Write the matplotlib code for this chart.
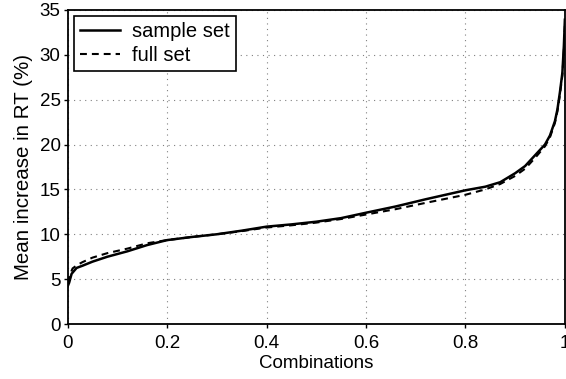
import matplotlib
matplotlib.use('Agg')
import matplotlib.pyplot as plt

plt.rcParams['font.family'] = ['Liberation Sans', 'DejaVu Sans']

# -- curve data --
x_sample = [0.0, 0.003, 0.008, 0.018, 0.03, 0.05, 0.08, 0.12, 0.16, 0.2,
            0.25, 0.3, 0.35, 0.4, 0.45, 0.5, 0.55, 0.6, 0.66, 0.72,
            0.8, 0.84, 0.87, 0.9, 0.92, 0.94, 0.96, 0.97, 0.98, 0.985,
            0.99, 0.995, 0.998, 1.0]
y_sample = [4.2, 4.6, 5.6, 6.25, 6.5, 6.95, 7.5, 8.1, 8.8, 9.35,
            9.7, 10.0, 10.4, 10.85, 11.1, 11.4, 11.8, 12.4, 13.1, 13.9,
            14.9, 15.3, 15.8, 16.8, 17.6, 18.8, 20.0, 21.0, 22.6, 23.9,
            25.8, 28.0, 31.0, 33.9]

x_full = [0.0, 0.004, 0.01, 0.02, 0.03, 0.05, 0.08, 0.12, 0.16, 0.2,
          0.25, 0.3, 0.35, 0.4, 0.45, 0.5, 0.55, 0.6, 0.66, 0.72,
          0.8, 0.84, 0.87, 0.9, 0.92, 0.94, 0.96, 0.97, 0.98, 0.985,
          0.99, 0.995, 0.998, 1.0]
y_full = [4.6, 5.4, 6.2, 6.6, 6.9, 7.4, 7.9, 8.4, 9.0, 9.35,
          9.7, 10.0, 10.35, 10.75, 11.0, 11.3, 11.7, 12.2, 12.8, 13.5,
          14.4, 15.0, 15.6, 16.5, 17.3, 18.5, 19.8, 20.8, 22.4, 23.7,
          25.5, 27.7, 30.5, 33.2]

xticks = [0, 0.2, 0.4, 0.6, 0.8, 1]
xtick_labels = ['0', '0.2', '0.4', '0.6', '0.8', '1']
yticks = [0, 5, 10, 15, 20, 25, 30, 35]

fig = plt.figure(figsize=(5.66, 3.79), dpi=100)
ax = fig.add_axes([0.1195, 0.145, 0.8785, 0.829])

ax.plot(x_sample, y_sample, color='black', lw=1.8, ls='-', label='sample set')
ax.plot(x_full, y_full, color='black', lw=1.5, ls=(0, (3.3, 2.4)), label='full set')

ax.set_xlim(0, 1)
ax.set_ylim(0, 35)
ax.set_xticks(xticks)
ax.set_xticklabels(xtick_labels)
ax.set_yticks(yticks)
ax.grid(True, color='gray', ls=(0, (1, 4)), lw=0.8)
ax.tick_params(direction='out', length=3, width=1, labelsize=13.5, pad=2)
ax.tick_params(axis='x', pad=5)
for s in ax.spines.values():
    s.set_linewidth(1.3)

ax.set_xlabel('Combinations', fontsize=13.5, labelpad=2)
ax.set_ylabel('Mean increase in RT (%)', fontsize=14.8, labelpad=5)

leg = ax.legend(loc='upper left', fontsize=14.5, fancybox=False, framealpha=1,
                edgecolor='black', handlelength=2.0, handletextpad=0.6,
                borderaxespad=0.3, labelspacing=0.25, borderpad=0.3)
leg.get_frame().set_linewidth(1.2)

fig.savefig('out.png', dpi=100)
